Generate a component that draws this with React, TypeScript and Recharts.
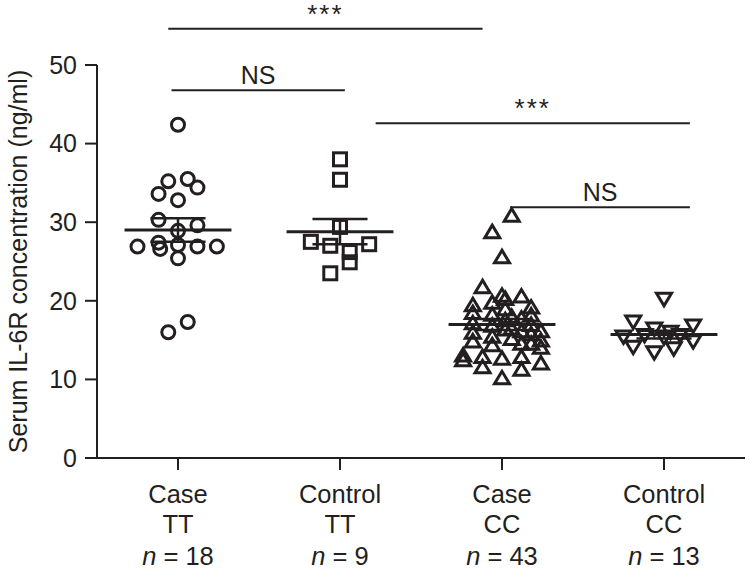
import { ScatterChart, Scatter, XAxis, YAxis, ReferenceLine } from 'recharts'

const ink = '#231f20'
const font = '"Liberation Sans", Arial, Helvetica, sans-serif'

// x-axis labels
const groupNames = ['Case', 'Control', 'Case', 'Control']
const genotypes = ['TT', 'TT', 'CC', 'CC']
const groupSizes = [18, 9, 43, 13]

// serum IL-6R (ng/ml) per subject, with horizontal spread (in group widths)
const caseTT = [42.4, 35.2, 35.5, 34.4, 33.6, 32.8, 30.3, 29.6, 28.9, 27.4, 26.9, 26.6, 27.1, 26.9, 26.9, 25.4, 16.0, 17.3]
const caseTTSpread = [0, -0.06, 0.06, 0.12, -0.12, 0, -0.12, 0.12, 0, -0.12, -0.25, -0.11, 0, 0.12, 0.24, 0, -0.06, 0.06]

const controlTT = [38.0, 35.4, 29.4, 27.5, 27.0, 27.2, 26.2, 24.9, 23.5]
const controlTTSpread = [0, 0, 0, -0.18, -0.06, 0.18, 0.06, 0.06, -0.06]

const caseCC = [
  30.9, 28.8, 25.6, 21.8, 20.7, 20.6, 19.5, 19.2,
  13.1, 12.5, 12.9, 11.6, 12.7, 12.9, 11.3, 12.1, 14.1, 10.2,
  18.5, 17.2, 16.0, 14.9,
  19.8, 18.3, 16.9, 15.5, 14.4,
  20.3, 19.0, 17.6, 16.4,
  18.0, 16.5, 15.2,
  17.8, 16.2, 14.6,
  18.2, 17.0, 15.8, 14.6,
  16.2, 15.0,
]
const caseCCSpread = [
  0.06, -0.06, 0, -0.12, 0, 0.12, -0.18, 0.18,
  -0.24, -0.24, -0.12, -0.12, 0, 0.12, 0.12, 0.24, 0.24, 0,
  -0.18, -0.18, -0.18, -0.18,
  -0.06, -0.06, -0.06, -0.06, -0.06,
  0.02, 0.02, 0.02, 0.02,
  0.06, 0.06, 0.06,
  0.12, 0.12, 0.12,
  0.18, 0.18, 0.18, 0.18,
  0.24, 0.24,
]

const controlCC = [20.2, 17.3, 16.4, 16.0, 16.8, 15.4, 14.1, 13.4, 13.9, 14.8, 15.6, 15.6, 15.3]
const controlCCSpread = [0, -0.19, -0.06, 0.04, 0.18, -0.25, -0.19, -0.06, 0.06, 0.18, -0.12, 0.1, 0]

const groupMeans = [29.0, 28.8, 17.0, 15.7]
const groupSems = [1.5, 1.6, 0.7, 0.5]

// significance brackets
const sigLabels = ['***', 'NS', '***', 'NS']
const sigLevels = [54.6, 46.8, 42.6, 31.9]
const sigFrom = [0.94, 0.96, 2.22, 3.05]
const sigTo = [2.88, 2.03, 4.16, 4.16]

const yTicks = [0, 10, 20, 30, 40, 50]

const toPoints = (vals: number[], spread: number[], g: number) =>
  vals.map((v, i) => ({ x: g + spread[i], y: v }))

const CircleMark = (p: any) => (
  <circle cx={p.cx} cy={p.cy} r={6.5} fill="none" stroke={ink} strokeWidth={3} />
)
const SquareMark = (p: any) => (
  <rect x={p.cx - 6.5} y={p.cy - 6.5} width={13} height={13} fill="none" stroke={ink} strokeWidth={3} />
)
const TriUpMark = (p: any) => (
  <polygon
    points={`${p.cx},${p.cy - 6.5} ${p.cx - 7.5},${p.cy + 6} ${p.cx + 7.5},${p.cy + 6}`}
    fill="none"
    stroke={ink}
    strokeWidth={3}
  />
)
const TriDownMark = (p: any) => (
  <polygon
    points={`${p.cx},${p.cy + 6.5} ${p.cx - 7.5},${p.cy - 6} ${p.cx + 7.5},${p.cy - 6}`}
    fill="none"
    stroke={ink}
    strokeWidth={3}
  />
)

function GroupTick({ x, y, payload }: any) {
  const i = payload.value - 1
  return (
    <g fill={ink} fontFamily={font} fontSize={25.5} textAnchor="middle">
      <text x={x} y={y + 31}>{groupNames[i]}</text>
      <text x={x} y={y + 61}>{genotypes[i]}</text>
      <text x={x} y={y + 93}>
        <tspan fontStyle="italic">n</tspan> = {groupSizes[i]}
      </text>
    </g>
  )
}

export default function App() {
  const groups = [1, 2, 3, 4]
  return (
    <div style={{ position: 'absolute', left: 0, top: 0, background: '#fff' }}>
      <ScatterChart width={750} height={570} margin={{ top: 65, right: 5, bottom: 12, left: 0 }}>
        <XAxis
          type="number"
          dataKey="x"
          domain={[0.5, 4.5]}
          ticks={groups}
          interval={0}
          allowDataOverflow
          height={100}
          tickSize={12}
          tick={<GroupTick />}
          axisLine={{ stroke: ink, strokeWidth: 2 }}
          tickLine={{ stroke: ink, strokeWidth: 2 }}
        />
        <YAxis
          type="number"
          dataKey="y"
          domain={[0, 50]}
          ticks={yTicks}
          allowDataOverflow
          width={97}
          tickSize={12}
          tickMargin={8}
          tick={{ fill: ink, fontSize: 25, fontFamily: font }}
          axisLine={{ stroke: ink, strokeWidth: 2 }}
          tickLine={{ stroke: ink, strokeWidth: 2 }}
          label={{
            value: 'Serum IL-6R concentration (ng/ml)',
            angle: -90,
            position: 'center',
            dx: -30,
            style: { fill: ink, fontSize: 25, fontFamily: font, textAnchor: 'middle' },
          }}
        />
        <Scatter data={toPoints(caseTT, caseTTSpread, 1)} shape={CircleMark} isAnimationActive={false} />
        <Scatter data={toPoints(controlTT, controlTTSpread, 2)} shape={SquareMark} isAnimationActive={false} />
        <Scatter data={toPoints(caseCC, caseCCSpread, 3)} shape={TriUpMark} isAnimationActive={false} />
        <Scatter data={toPoints(controlCC, controlCCSpread, 4)} shape={TriDownMark} isAnimationActive={false} />

        {groups.map((g, i) => (
          <ReferenceLine
            key={`mean-${g}`}
            segment={[{ x: g - 0.33, y: groupMeans[i] }, { x: g + 0.33, y: groupMeans[i] }]}
            stroke={ink}
            strokeWidth={3}
            ifOverflow="visible"
          />
        ))}
        {groups.map((g, i) => (
          <ReferenceLine
            key={`sem-${g}`}
            segment={[{ x: g, y: groupMeans[i] - groupSems[i] }, { x: g, y: groupMeans[i] + groupSems[i] }]}
            stroke={ink}
            strokeWidth={2.5}
            ifOverflow="visible"
          />
        ))}
        {groups.map((g, i) => (
          <ReferenceLine
            key={`semhi-${g}`}
            segment={[{ x: g - 0.17, y: groupMeans[i] + groupSems[i] }, { x: g + 0.17, y: groupMeans[i] + groupSems[i] }]}
            stroke={ink}
            strokeWidth={2.5}
            ifOverflow="visible"
          />
        ))}
        {groups.map((g, i) => (
          <ReferenceLine
            key={`semlo-${g}`}
            segment={[{ x: g - 0.17, y: groupMeans[i] - groupSems[i] }, { x: g + 0.17, y: groupMeans[i] - groupSems[i] }]}
            stroke={ink}
            strokeWidth={2.5}
            ifOverflow="visible"
          />
        ))}
        {sigLabels.map((s, i) => (
          <ReferenceLine
            key={`sig-${i}`}
            segment={[{ x: sigFrom[i], y: sigLevels[i] }, { x: sigTo[i], y: sigLevels[i] }]}
            stroke={ink}
            strokeWidth={2}
            ifOverflow="visible"
            label={{
              value: s,
              position: 'top',
              offset: 6,
              fill: ink,
              fontSize: s === 'NS' ? 25 : 26,
              fontFamily: font,
              letterSpacing: s === 'NS' ? 0 : 2,
            }}
          />
        ))}
      </ScatterChart>
    </div>
  )
}
